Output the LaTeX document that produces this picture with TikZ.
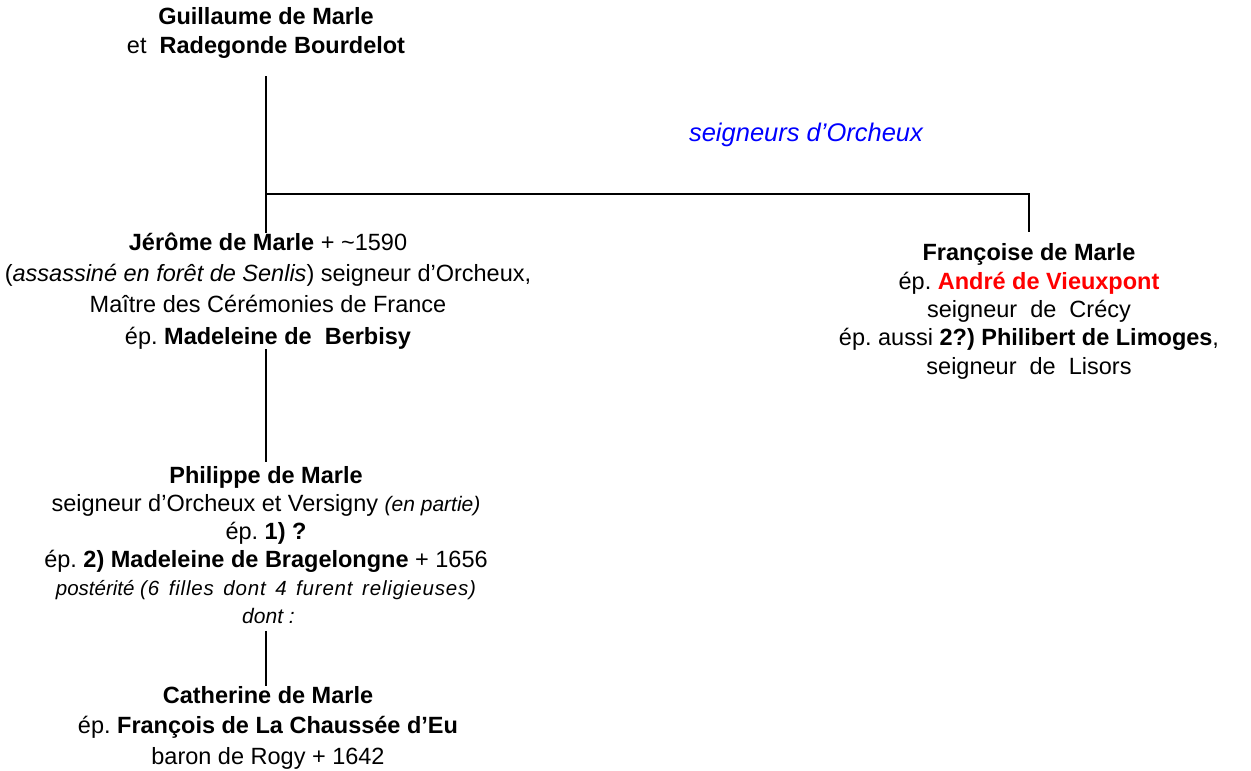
\documentclass[tikz,border=0pt]{standalone}
\usepackage{fontspec}
\setmainfont{Liberation Sans}
\frenchspacing
\begin{document}
\begin{tikzpicture}[x=1pt,y=-1pt,
  person/.style={align=center, inner sep=0pt},
  link/.style={line width=2.8pt, draw=black}
]
\path[use as bounding box, fill=white] (0,0) rectangle (1251,771);

\node[person, font=\fontsize{23.5}{29}\selectfont] (gm) at (266,32.5)
  {\textbf{Guillaume de Marle}\\et\ \ \textbf{Radegonde Bourdelot}};

\node[font=\fontsize{25.5}{30}\selectfont\itshape, text=blue] (orch) at (806,135) {seigneurs d’Orcheux};

\node[person, font=\fontsize{23.5}{31.3}\selectfont] (jer) at (268,291)
  {\textbf{Jérôme de Marle} + \textasciitilde1590\\
   (\textit{assassiné en forêt de Senlis}) seigneur d’Orcheux,\\
   Maître des Cérémonies de France\\
   ép. \textbf{Madeleine de\ \ Berbisy}};

\node[person, font=\fontsize{23.5}{28.3}\selectfont] (fr) at (1029,311.5)
  {\textbf{Françoise de Marle}\\
   ép. \textcolor{red}{\textbf{André de Vieuxpont}}\\
   seigneur\ \ de\ \ Crécy\\
   ép. aussi \textbf{2?) Philibert de Limoges},\\
   seigneur\ \ de\ \ Lisors};

\node[person, font=\fontsize{23.5}{28}\selectfont] (phi) at (266,545)
  {\textbf{Philippe de Marle}\\
   seigneur d’Orcheux et Versigny {\fontsize{21}{24}\selectfont\itshape (en partie)}\\
   ép. \textbf{1) ?}\\
   ép. \textbf{2) Madeleine de Bragelongne} + 1656\\
   {\fontsize{20.5}{24}\selectfont\itshape postérité {\addfontfeature{LetterSpace=4}\spaceskip=9.5pt (6 filles dont 4 furent religieuses)}}\\
   \hspace*{5pt}{\fontsize{21}{24}\selectfont\itshape dont :}};

\node[person, font=\fontsize{23.5}{30.5}\selectfont] (cat) at (268,727.5)
  {\textbf{Catherine de Marle}\\
   ép. \textbf{François de La Chaussée d’Eu}\\
   baron de Rogy + 1642};

\coordinate (jct) at (266,194);
\draw[link, shorten <=18pt] (gm.south) -- (gm.south |- jer.north);
\draw[link, shorten >=12pt] (jct) -| (fr.north);
\draw[link, shorten >=4pt] (jer.south -| gm.south) -- (gm.south |- phi.north);
\draw[link, shorten <=7pt] (phi.south) -- (phi.south |- cat.north);
\end{tikzpicture}
\end{document}
